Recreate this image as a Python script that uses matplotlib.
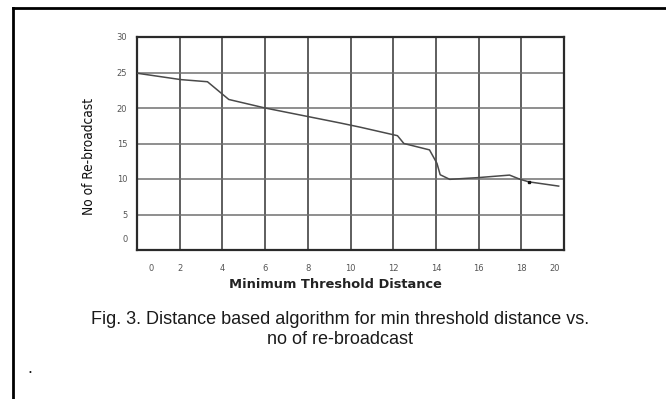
import matplotlib
matplotlib.use("Agg")
import matplotlib.pyplot as plt
from matplotlib.lines import Line2D
from matplotlib.transforms import ScaledTranslation

# values
distance = [0, 2.05, 3.3, 4.3, 6.0, 8.0, 9.5, 10.45, 12.2, 12.5, 13.7, 14.05, 14.2,
            14.65, 16.0, 17.45, 17.95, 18.35, 19.75]
rebroadcast = [24.9, 24.0, 23.7, 21.2, 20.0, 18.8, 17.9, 17.3, 16.1, 15.0, 14.1, 12.2,
               10.6, 9.95, 10.2, 10.55, 9.95, 9.6, 9.0]
dot_x = [18.35]
dot_y = [9.6]
x_ticks = [0, 2, 4, 6, 8, 10, 12, 14, 16, 18, 20]
y_ticks = [0, 5, 10, 15, 20, 25, 30]

W, H = 666, 399
fig = plt.figure(figsize=(W / 100, H / 100), dpi=100)
ax = fig.add_axes([137 / W, 1 - 250 / H, 427 / W, 213 / H])

ax.set_xlim(0, 20)
ax.set_ylim(0, 30)
ax.set_xticks(x_ticks)
ax.set_yticks(y_ticks)
ax.set_xticklabels([str(t) for t in x_ticks])
ax.set_yticklabels([str(t) for t in y_ticks])

# grid: vertical lines darker than horizontal ones
for t in x_ticks[1:-1]:
    ax.axvline(t, color="#333333", lw=1.1, zorder=1)
for t in y_ticks[1:-1]:
    ax.axhline(t, color="#707070", lw=1.1, zorder=1)

ax.plot(distance, rebroadcast, color="#4a4a4a", lw=1.1, zorder=3)
ax.plot(dot_x, dot_y, "s", color="#111111", ms=1.6, zorder=4)

for s in ax.spines.values():
    s.set_color("#2a2a2a")
    s.set_linewidth(1.6)

ax.tick_params(length=0, labelsize=6, labelcolor="#555555")
ax.tick_params(axis="x", pad=10)
ax.tick_params(axis="y", pad=7)

# the scan has the end labels nudged inwards
xl = ax.get_xticklabels()
xl[0].set_transform(xl[0].get_transform() + ScaledTranslation(14 / 100, 0, fig.dpi_scale_trans))
xl[-1].set_transform(xl[-1].get_transform() + ScaledTranslation(-9 / 100, 0, fig.dpi_scale_trans))
yl = ax.get_yticklabels()
yl[0].set_transform(yl[0].get_transform() + ScaledTranslation(0, 11 / 100, fig.dpi_scale_trans))

fig.text(89 / W, 1 - 157 / H, "No of Re-broadcast", rotation=90, ha="center", va="center",
         fontsize=9.8, fontstretch="condensed",
         family=["Liberation Sans Narrow", "DejaVu Sans"], color="#111111")
fig.text(335 / W, 1 - 284 / H, "Minimum Threshold Distance", ha="center", va="center",
         fontsize=9.4, fontweight="bold", color="#222222")

fig.text(340 / W, 1 - 319 / H, "Fig. 3. Distance based algorithm for min threshold distance vs.",
         ha="center", va="center", fontsize=13, family="Liberation Sans", color="#1a1a1a")
fig.text(340 / W, 1 - 339 / H, "no of re-broadcast",
         ha="center", va="center", fontsize=13, family="Liberation Sans", color="#1a1a1a")
fig.text(30 / W, 1 - 373 / H, ".", ha="center", va="baseline", fontsize=13,
         family="Liberation Sans", color="#1a1a1a")

# page border (top and left edges only)
fig.add_artist(Line2D([13 / W, 1], [1 - 8 / H, 1 - 8 / H], transform=fig.transFigure,
                      color="black", lw=2))
fig.add_artist(Line2D([13 / W, 13 / W], [1 - 8 / H, 0], transform=fig.transFigure,
                      color="black", lw=2))

fig.savefig("out.png", dpi=100, facecolor="white")
